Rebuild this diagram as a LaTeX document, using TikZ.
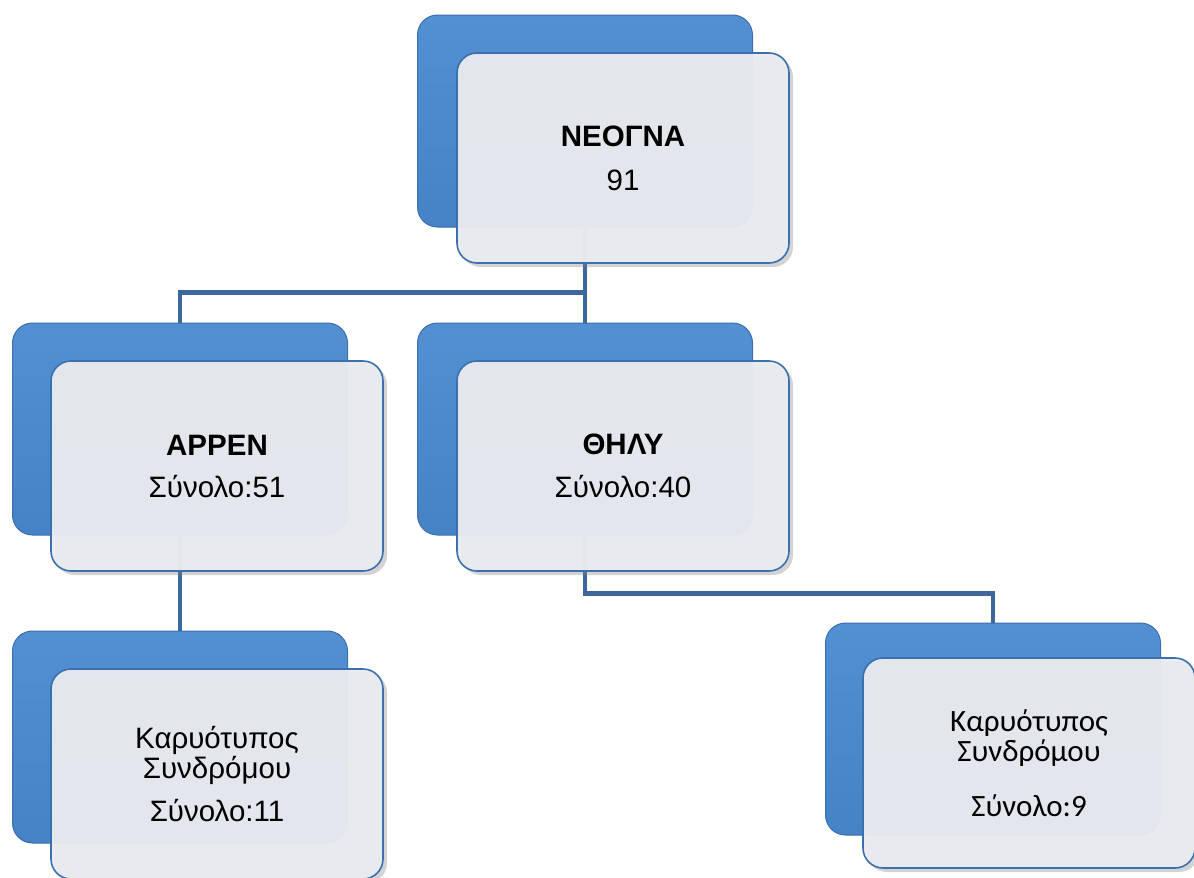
\documentclass[tikz,border=0pt]{standalone}
\usepackage{fontspec}
\setmainfont{Liberation Sans}
\newfontfamily\carlitofont{Carlito}
\usetikzlibrary{shadows,backgrounds}
\definecolor{bluchiaro}{HTML}{5290D2}
\definecolor{blufondo}{HTML}{4682C6}
\definecolor{bordoblu}{HTML}{3B6FAD}
\definecolor{grigiochiaro}{HTML}{E9EBEF}
\definecolor{blulinea}{HTML}{3E689C}
\tikzset{
  retro/.style={rectangle, rounded corners=20pt, inner sep=0pt,
    minimum width=335pt, minimum height=212pt,
    top color=bluchiaro, bottom color=blufondo, draw=bordoblu, line width=1pt},
  fronte/.style={rectangle, rounded corners=20pt, align=center,
    minimum width=332pt, minimum height=210pt,
    fill=grigiochiaro, fill opacity=0.96, text opacity=1,
    draw=bordoblu, line width=1.6pt,
    font=\fontsize{29.5}{30}\selectfont,
    drop shadow={shadow xshift=4pt, shadow yshift=-4pt, opacity=0.35}},
  collegamento/.style={draw=blulinea, line width=4.5pt}
}
\begin{document}
\begin{tikzpicture}[x=1pt,y=-1pt]
    \useasboundingbox (0,0) rectangle (1194,878);

    % Disegna i riquadri
    \node[retro] (neoretro) at (585,121) {};
    \node[fronte, xshift=38pt, yshift=-37pt] (neo) at (neoretro)
        {\textbf{ΝΕΟΓΝΑ}\\[14pt]91};

    \node[retro] (arrenretro) at (180,429) {};
    \node[fronte, xshift=37pt, yshift=-37pt] (arren) at (arrenretro)
        {\textbf{ΑΡΡΕΝ}\\[12pt]Σύνολο:51};

    \node[retro] (thilyretro) at (585,429) {};
    \node[fronte, xshift=38pt, yshift=-37pt] (thily) at (thilyretro)
        {\textbf{ΘΗΛΥ}\\[13pt]Σύνολο:40};

    \node[retro] (karyoaretro) at (180,737) {};
    \node[fronte, xshift=37pt, yshift=-37pt] (karyoa) at (karyoaretro)
        {Καρυότυπος\\Συνδρόμου\\[13pt]Σύνολο:11};

    \node[retro] (karyobretro) at (993,729) {};
    \node[fronte, xshift=36pt, yshift=-34pt,
        font=\carlitofont\fontsize{31}{30}\selectfont] (karyob) at (karyobretro)
        {Καρυότυπος\\Συνδρόμου\\[25pt]Σύνολο:9};

    % Disegna i collegamenti
    \begin{scope}[on background layer]
        \draw[collegamento] (neoretro.south) -- (thilyretro.north);
        \draw[collegamento] (arrenretro.north) |- ([yshift=30pt]thilyretro.north);
        \draw[collegamento] (arrenretro.south) -- (karyoaretro.north);
        \draw[collegamento] (thilyretro.south) |- ([yshift=29pt]karyobretro.north)
            -- (karyobretro.north);
    \end{scope}
\end{tikzpicture}
\end{document}
